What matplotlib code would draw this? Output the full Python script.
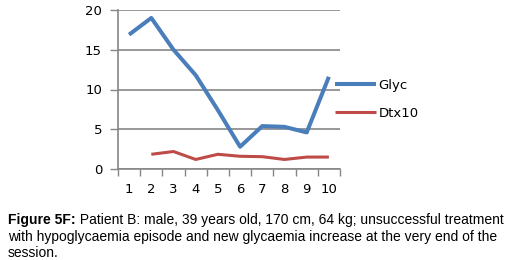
import matplotlib
matplotlib.use("Agg")
from matplotlib import pyplot as plt
import numpy as np

points = [1, 2, 3, 4, 5, 6, 7, 8, 9, 10]
glyc = [16.9, 19.0, 15.0, 11.8, 7.4, 2.8, 5.4, 5.3, 4.6, 11.6]
dtx10 = [None, 1.85, 2.2, 1.2, 1.85, 1.6, 1.55, 1.2, 1.5, 1.5]
yticks = [0, 5, 10, 15, 20]

caption_bold = "Figure 5F:"
caption_rest = " Patient B: male, 39 years old, 170 cm, 64 kg; unsuccessful treatment"
caption_l2 = "with hypoglycaemia episode and new glycaemia increase at the very end of the"
caption_l3 = "session."

W, H = 511, 260
fig = plt.figure(figsize=(W / 100, H / 100), dpi=100)
ax = fig.add_axes([118 / W, 1 - 169 / H, (340 - 118) / W, (169 - 10) / H])

dtx_arr = np.array([np.nan if v is None else v for v in dtx10], dtype=float)
ax.plot(points, glyc, color="#4A7EBB", lw=2.9, label="Glyc", solid_capstyle="butt")
ax.plot(points, dtx_arr, color="#BE4B48", lw=2.2, label="Dtx10", solid_capstyle="butt")

ax.set_xlim(0.5, 10.5)
ax.set_ylim(0, 20)
ax.set_yticks(yticks)
ax.yaxis.grid(True, color="#868686", lw=1.2)
ax.set_axisbelow(True)

ax.set_xticks(points)
ax.set_xticks(np.arange(0.5, 11, 1), minor=True)
ax.tick_params(axis="x", which="major", length=0, pad=10, labelsize=9.5)
ax.tick_params(axis="x", which="minor", length=5, color="#868686", width=1)
ax.tick_params(axis="y", length=6, color="#868686", width=1, labelsize=9.5, pad=5.5)

for s in ["top", "right"]:
    ax.spines[s].set_visible(False)
for s in ["left", "bottom"]:
    ax.spines[s].set_color("#868686")
    ax.spines[s].set_linewidth(1.2)

fig.legend(loc="upper left", bbox_to_anchor=(335 / W, 1 - 79 / H),
           frameon=False, borderpad=0, borderaxespad=0,
           handlelength=3.1, handletextpad=0.2, labelspacing=1.1, fontsize=9.5)

cap_font = "Liberation Sans"
t = fig.text(8 / W, 1 - 224 / H, caption_bold, fontfamily=cap_font, fontsize=10,
             fontweight="bold", va="baseline")
fig.canvas.draw()
ax.annotate(caption_rest, xy=(1, 0), xycoords=t, fontfamily=cap_font, fontsize=10,
            va="bottom", ha="left", annotation_clip=False)
fig.text(8 / W, 1 - 241 / H, caption_l2, fontfamily=cap_font, fontsize=10, va="baseline")
fig.text(8 / W, 1 - 257 / H, caption_l3, fontfamily=cap_font, fontsize=10, va="baseline")

fig.savefig("out.png", dpi=100)
